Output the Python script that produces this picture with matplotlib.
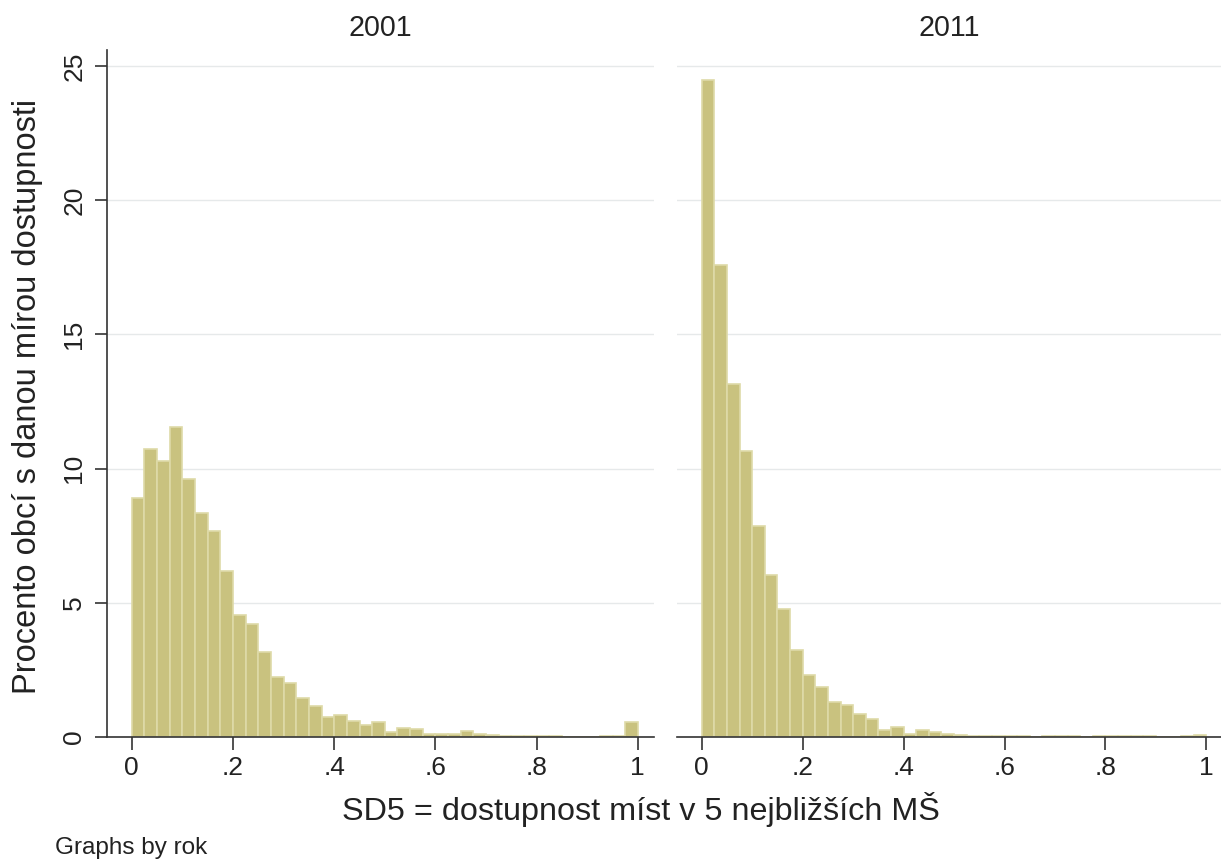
import numpy as np
import matplotlib
matplotlib.use("Agg")
import matplotlib.pyplot as plt

plt.rcParams["font.family"] = ["Liberation Sans", "DejaVu Sans"]

# bin heights (percent of municipalities), 40 bins of width 0.025 on [0, 1]
YEARS = ["2001", "2011"]
PCT_2001 = [8.92, 10.73, 10.30, 11.54, 9.60, 8.36, 7.67, 6.18, 4.55, 4.21,
            3.18, 2.25, 2.00, 1.47, 1.16, 0.73, 0.82, 0.61, 0.45, 0.55,
            0.17, 0.35, 0.30, 0.10, 0.10, 0.10, 0.22, 0.12, 0.07, 0.03,
            0.02, 0.02, 0.03, 0.03, 0.01, 0.01, 0.01, 0.02, 0.02, 0.55]
PCT_2011 = [24.5, 17.6, 13.15, 10.65, 7.87, 6.03, 4.78, 3.23, 2.30, 1.86,
            1.30, 1.18, 0.87, 0.66, 0.27, 0.37, 0.10, 0.27, 0.19, 0.10,
            0.06, 0.05, 0.04, 0.03, 0.02, 0.02, 0.01, 0.02, 0.02, 0.02,
            0.01, 0.02, 0.02, 0.02, 0.02, 0.02, 0.01, 0.01, 0.02, 0.08]
X_TICKS = [0, 0.2, 0.4, 0.6, 0.8, 1]
X_TICKLABELS = ["0", ".2", ".4", ".6", ".8", "1"]
Y_TICKS = [0, 5, 10, 15, 20, 25]

edges = np.linspace(0, 1, len(PCT_2001) + 1)

W, H = 1221, 864
fig = plt.figure(figsize=(W / 100, H / 100), dpi=100)
fig.patch.set_facecolor("white")

panels = [(107, 654, -0.049, 1.032, PCT_2001), (677, 1221, -0.049, 1.029, PCT_2011)]
axis_col = "#333333"
txt_col = "#222222"
for i, (x0, x1, lo, hi, vals) in enumerate(panels):
    ax = fig.add_axes([x0 / W, (H - 737) / H, (x1 - x0) / W, (737 - 50) / H])
    ax.bar(edges[:-1], vals, width=np.diff(edges), align="edge",
           color="#c9c27f", edgecolor="#dedaa8", linewidth=1.2, zorder=2)
    ax.set_xlim(lo, hi)
    ax.set_ylim(0, 25.6)
    ax.set_yticks(Y_TICKS)
    ax.yaxis.grid(True, color="#e6e9ea", linewidth=1.0, zorder=0)
    ax.set_axisbelow(True)
    for s in ["top", "right"]:
        ax.spines[s].set_visible(False)
    ax.spines["bottom"].set_color(axis_col)
    ax.spines["bottom"].set_linewidth(1.2)
    ax.set_xticks(X_TICKS)
    ax.set_xticklabels(X_TICKLABELS)
    ax.tick_params(axis="x", length=9, width=1.2, color=axis_col, pad=5,
                   labelsize=19, labelcolor=txt_col)
    if i == 0:
        ax.spines["left"].set_color(axis_col)
        ax.spines["left"].set_linewidth(1.2)
        ax.tick_params(axis="y", length=9, width=1.2, color=axis_col, pad=6,
                       labelsize=19, labelcolor=txt_col)
        for lab in ax.get_yticklabels():
            lab.set_rotation(90)
            lab.set_va("center")
    else:
        ax.spines["left"].set_visible(False)
        ax.tick_params(axis="y", left=False, labelleft=False)
    fig.text((x0 + x1) / 2 / W, 1 - 36 / H, YEARS[i], ha="center", va="baseline",
             fontsize=20.6, color=txt_col)

fig.text(28 / W, 1 - 396 / H, "Procento obcí s danou mírou dostupnosti",
         rotation=90, ha="center", va="center", fontsize=23.5, color=txt_col)
fig.text(641 / W, 1 - 820 / H, "SD5 = dostupnost míst v 5 nejbližších MŠ",
         ha="center", va="baseline", fontsize=23.3, color=txt_col)
fig.text(55 / W, 1 - 854 / H, "Graphs by rok", ha="left", va="baseline",
         fontsize=17.5, color=txt_col)

fig.savefig("out.png", dpi=100, facecolor="white")
